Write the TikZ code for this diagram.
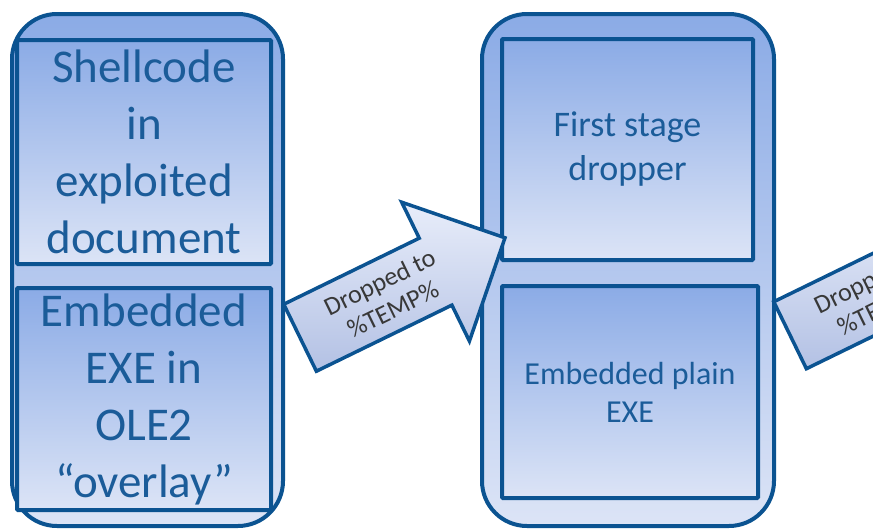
\documentclass[tikz,border=0pt]{standalone}
\usepackage{fontspec}
\setmainfont{Carlito}
\usetikzlibrary{calc, shapes.arrows}

\definecolor{frameblue}{HTML}{0B5391}
\definecolor{textblue}{HTML}{1B5C99}
\definecolor{boxtop}{HTML}{8BABE6}
\definecolor{boxbot}{HTML}{DCE4F6}
\definecolor{arrowlight}{HTML}{E8EDFA}
\definecolor{arrowdark}{HTML}{B3C1E4}

\begin{document}
\begin{tikzpicture}[
  x=1pt, y=-1pt,
  stagebox/.style={draw=frameblue, line width=4pt, rounded corners=45pt,
                   top color=boxtop, bottom color=boxbot, inner sep=0pt},
  partbox/.style={draw=frameblue, line width=4pt, rounded corners=1pt,
                  top color=boxtop, bottom color=boxbot, text=textblue,
                  align=center, inner sep=0pt},
  droparrow/.style={single arrow, draw=frameblue, line width=3.5pt,
                    top color=arrowlight, bottom color=arrowdark,
                    rotate=26, anchor=tail, minimum height=228pt, minimum width=152pt,
                    single arrow head extend=40pt, inner xsep=0pt, inner ysep=35.5pt},
  dropnote/.style={rotate=26, text=black!78, align=center, inner sep=0pt,
                   font=\fontsize{26}{30}\selectfont},
]
  % --- page frame ---
  \clip (0,0) rectangle (873,530);

  % --- stage 1: exploited document ---
  \node[stagebox, minimum width=271pt, minimum height=512pt] (stageA) at (147.5,270) {};
  \node[partbox, minimum width=254pt, minimum height=224pt, font=\fontsize{47}{57}\selectfont]
    (shellcode) at (144,152) {Shellcode\\in\\exploited\\document};
  \node[partbox, minimum width=254pt, minimum height=222pt, font=\fontsize{47}{57}\selectfont]
    (embedded) at (144,399) {Embedded\\EXE in\\OLE2\\“overlay”};

  % --- stage 2: dropper ---
  \node[stagebox, minimum width=292pt, minimum height=512pt] (stageB) at (628,270) {};
  \node[partbox, minimum width=251pt, minimum height=221pt, font=\fontsize{36}{44}\selectfont]
    (dropper) at (627.5,149.5) {First stage\\dropper};
  \node[partbox, minimum width=256pt, minimum height=212pt, font=\fontsize{32}{38}\selectfont]
    (plainexe) at (630,392) {Embedded plain\\EXE};

  % --- drop arrows ---
  \node[droparrow] (drop1) at ($(stageA.east)+(13.5,68.5)$) {};
  \node[dropnote] (note1) at ($(drop1.tail)!0.42!(drop1.tip)$) {Dropped to\\\%TEMP\%};
  \node[droparrow] (drop2) at ($(stageB.east)+(12.5,66)$) {};
  \node[dropnote] (note2) at ($(drop2.tail)!0.42!(drop2.tip)$) {Dropped to\\\%TEMP\%};
\end{tikzpicture}
\end{document}
